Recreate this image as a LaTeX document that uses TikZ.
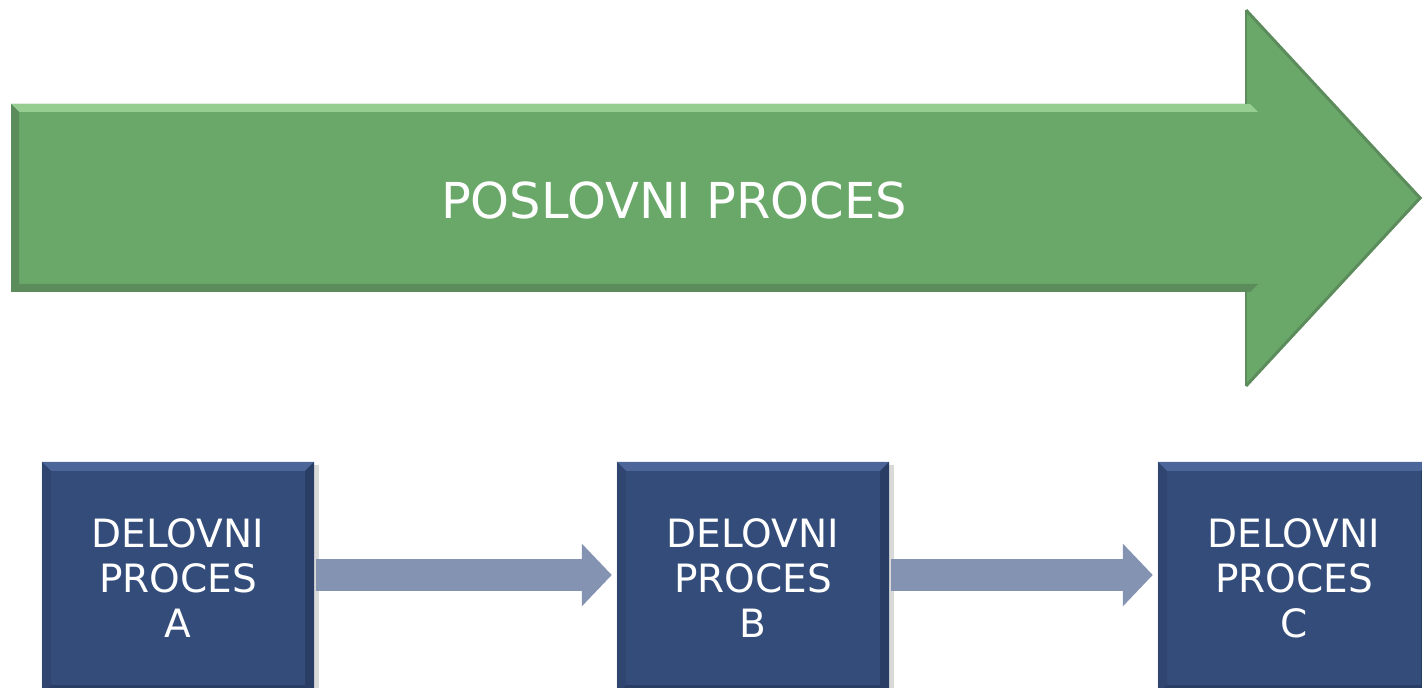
\documentclass[tikz,border=0pt]{standalone}
\usepackage{fontspec}
\setmainfont{DejaVu Sans}
\usetikzlibrary{arrows.meta,shadows}
\definecolor{arrgreen}{RGB}{106,168,106}
\definecolor{arrlight}{RGB}{150,206,146}
\definecolor{arrdark}{RGB}{92,140,92}
\definecolor{boxblue}{RGB}{52,76,122}
\definecolor{boxlight}{RGB}{76,102,154}
\definecolor{boxdark}{RGB}{42,61,100}
\definecolor{linkblue}{RGB}{133,147,179}
\tikzset{
  procbox/.style={draw=none, fill=boxblue, minimum width=272pt, minimum height=232pt,
    inner sep=0pt, align=center, text=white, font=\fontsize{39}{45}\selectfont,
    drop shadow={shadow xshift=5pt, shadow yshift=-3pt, opacity=0.15, fill=black}},
  link/.style={draw=linkblue, line width=32pt,
    -{Triangle[length=30pt,width=61pt]}, shorten >=5pt, shorten <=2pt},
  title/.style={text=white, font=\fontsize{49.5}{58}\selectfont, inner sep=0pt}
}
\begin{document}
\begin{tikzpicture}[x=1pt,y=1pt]
\useasboundingbox (0,0) rectangle (1422,688);
\clip (0,0) rectangle (1422,688);
% big arrow
\fill[arrgreen] (11,584) -- (1245,584) -- (1245,678) -- (1422,490) -- (1245,302) -- (1245,396) -- (11,396) -- cycle;
\fill[arrlight] (11,584) -- (1250,584) -- (1258,576) -- (19,576) -- cycle;
\fill[arrdark] (11,396) -- (1250,396) -- (1258,404) -- (19,404) -- cycle;
\fill[arrdark] (11,396) -- (11,584) -- (19,576) -- (19,404) -- cycle;
\draw[arrdark, line width=3pt, line join=miter] (1246,678) -- (1420,490) -- (1246,302);
\draw[arrdark, line width=2pt] (1246,584) -- (1246,678);
\draw[arrdark, line width=2pt] (1246,302) -- (1246,396);
\node[title] (t) at (674,488) {POSLOVNI PROCES};
% boxes
\node[procbox] (a) at (178,110) {DELOVNI\\PROCES\\A};
\node[procbox] (b) at (753,110) {DELOVNI\\PROCES\\B};
\node[procbox] (c) at (1294,110) {DELOVNI\\PROCES\\C};
\foreach \n in {a,b,c}{
  \fill[boxlight] (\n.north west) -- (\n.north east) -- ([shift={(-9pt,-9pt)}]\n.north east) -- ([shift={(9pt,-9pt)}]\n.north west) -- cycle;
  \fill[boxdark] (\n.north east) -- (\n.south east) -- ([shift={(-9pt,9pt)}]\n.south east) -- ([shift={(-9pt,-9pt)}]\n.north east) -- cycle;
  \fill[boxdark, opacity=0.4] (\n.north west) -- (\n.south west) -- ([shift={(9pt,9pt)}]\n.south west) -- ([shift={(9pt,-9pt)}]\n.north west) -- cycle;
  \fill[boxdark] (\n.south west) -- (\n.south east) -- ([shift={(-9pt,9pt)}]\n.south east) -- ([shift={(9pt,9pt)}]\n.south west) -- cycle;
}
% links
\draw[link] ([yshift=3pt]a.east) -- ([yshift=3pt]b.west);
\draw[link] ([yshift=3pt]b.east) -- ([yshift=3pt]c.west);
\end{tikzpicture}
\end{document}
